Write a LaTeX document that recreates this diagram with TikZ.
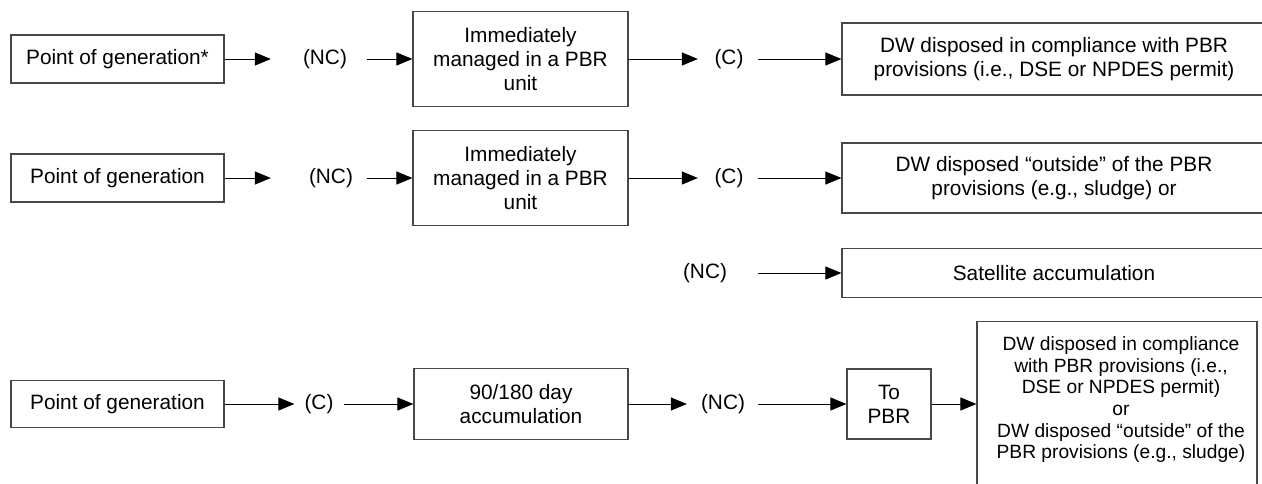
\documentclass[tikz,border=0pt]{standalone}
\usepackage{fontspec}
\setmainfont{Liberation Sans}
\usetikzlibrary{arrows.meta}
\begin{document}
\begin{tikzpicture}[x=1pt,y=-1pt,
  box/.style={draw=black!72, line width=1.2pt, inner sep=0pt, align=center,
    font=\fontsize{20.8}{24}\selectfont},
  lbl/.style={inner sep=0pt, font=\fontsize{20.8}{24}\selectfont},
  arr/.style={-{Triangle[length=16pt,width=13pt]}, line width=1pt}]
\useasboundingbox (0,0) rectangle (1262,483);
\clip (0,0) rectangle (1262,483);

% first chain
\node[box, minimum width=213pt, minimum height=48pt] (p1) at (117.5,59) {Point of generation*};
\node[lbl] (nc1) at (325,59) {(NC)};
\node[box, minimum width=215pt, minimum height=95pt] (m1) at (520.5,59) {Immediately\\managed in a PBR\\unit};
\node[lbl] (c1) at (729,59) {(C)};
\node[box, minimum width=424pt, minimum height=72pt] (d1) at (1054,59) {DW disposed in compliance with PBR\\provisions (i.e., DSE or NPDES permit)};
\draw[arr, shorten >=32pt] (p1.east) -- (p1.east -| nc1.west);
\draw[arr, shorten <=20pt] (nc1.east) -- (nc1.east -| m1.west);
\draw[arr, shorten >=16.5pt] (m1.east) -- (m1.east -| c1.west);
\draw[arr, shorten <=14.5pt] (c1.east) -- (c1.east -| d1.west);

% second chain
\node[box, minimum width=213pt, minimum height=48pt] (p2) at (117.5,178) {Point of generation};
\node[lbl] (nc2) at (331,178) {(NC)};
\node[box, minimum width=215pt, minimum height=95pt] (m2) at (520.5,178) {Immediately\\managed in a PBR\\unit};
\node[lbl] (c2) at (729,178) {(C)};
\node[box, minimum width=424pt, minimum height=70pt] (d2) at (1054,178) {DW disposed “outside” of the PBR\\provisions (e.g., sludge) or};
\draw[arr, shorten >=38pt] (p2.east) -- (p2.east -| nc2.west);
\draw[arr, shorten <=14pt] (nc2.east) -- (nc2.east -| m2.west);
\draw[arr, shorten >=16.5pt] (m2.east) -- (m2.east -| c2.west);
\draw[arr, shorten <=14.5pt] (c2.east) -- (c2.east -| d2.west);

% satellite branch
\node[lbl] (nc3) at (705,273) {(NC)};
\node[box, minimum width=424pt, minimum height=49pt] (d3) at (1054,273) {Satellite accumulation};
\draw[arr, shorten <=31pt] (nc3.east) -- (nc3.east -| d3.west);

% third chain
\node[box, minimum width=213pt, minimum height=47pt] (p3) at (117.5,404) {Point of generation};
\node[lbl] (c3) at (319,404) {(C)};
\node[box, minimum width=214pt, minimum height=71pt] (a3) at (521,404) {90/180 day\\accumulation};
\node[lbl] (nc4) at (723,404) {(NC)};
\node[box, minimum width=84pt, minimum height=70pt] (t3) at (889,404) {To\\PBR};
\node[box, anchor=north, minimum width=280pt, font=\fontsize{19.2}{21.6}\selectfont] (b3) at (1117,321)
  {\hspace*{8pt}\rule{0pt}{29pt}DW disposed in compliance\\\hspace*{8pt}with PBR provisions (i.e.,\\\hspace*{8pt}DSE or NPDES permit)\\\hspace*{8pt}or\\\hspace*{8pt}DW disposed “outside” of the\\\hspace*{8pt}PBR provisions (e.g., sludge)\rule[-40pt]{0pt}{0pt}};
\draw[arr, shorten >=10pt] (p3.east) -- (p3.east -| c3.west);
\draw[arr, shorten <=10pt] (c3.east) -- (c3.east -| a3.west);
\draw[arr, shorten >=14pt] (a3.east) -- (a3.east -| nc4.west);
\draw[arr, shorten <=13pt] (nc4.east) -- (nc4.east -| t3.west);
\draw[arr] (t3.east) -- (t3.east -| b3.west);
\end{tikzpicture}
\end{document}
